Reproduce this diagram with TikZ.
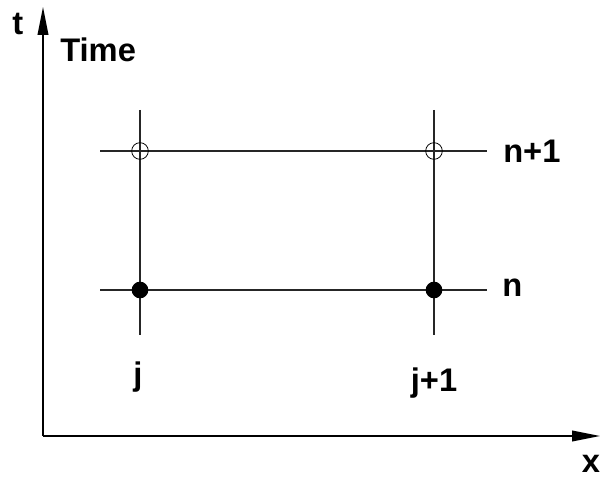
\documentclass[tikz,border=0pt]{standalone}
\usepackage{fontspec}
\setmainfont{Liberation Sans}
\usetikzlibrary{arrows.meta}
\begin{document}
\begin{tikzpicture}[x=0.75pt,y=-0.75pt,
  lbl/.style={inner sep=0pt,font=\fontsize{24.5}{28}\selectfont\bfseries},
  axis/.style={line width=1.2pt,-{Triangle[length=21pt,width=8pt]}},
  grid/.style={line width=0.9pt,black!85},
  opendot/.style={circle,draw,line width=0.6pt,minimum size=12.5pt,inner sep=0pt},
  fulldot/.style={circle,fill=black,minimum size=12.5pt,inner sep=0pt}]
\useasboundingbox (0,0) rectangle (600,477);
% axes
\coordinate (O) at (43,436);
\coordinate (T) at (43,7);
\coordinate (X) at (600,436);
\draw[axis] (O) -- (T);
\draw[axis] (O) -- (X);
% grid line ends
\coordinate (a1) at (100,151);
\coordinate (a2) at (487,151);
\coordinate (b1) at (100,290);
\coordinate (b2) at (487,290);
\coordinate (c1) at (140,110);
\coordinate (c2) at (140,335);
\coordinate (d1) at (434,110);
\coordinate (d2) at (434,335);
\draw[grid] (a1) -- (a2);
\draw[grid] (b1) -- (b2);
\draw[grid] (c1) -- (c2);
\draw[grid] (d1) -- (d2);
% points
\node[opendot] (p11) at (140,151) {};
\node[opendot] (p21) at (434,151) {};
\node[fulldot] (p10) at (140,290) {};
\node[fulldot] (p20) at (434,290) {};
% labels
\node[lbl,anchor=base west] (lt) at (12,35) {t};
\node[lbl,anchor=base west] (ltime) at (60,62) {Time};
\node[lbl,anchor=base west] (ln1) at (503,163) {n+1};
\node[lbl,anchor=base west] (ln) at (502,297) {n};
\node[lbl,anchor=base] (lj) at (138,386) {j};
\node[lbl,anchor=base] (lj1) at (434,392) {j+1};
\node[lbl,anchor=base] (lx) at (591,472) {x};
\end{tikzpicture}
\end{document}
